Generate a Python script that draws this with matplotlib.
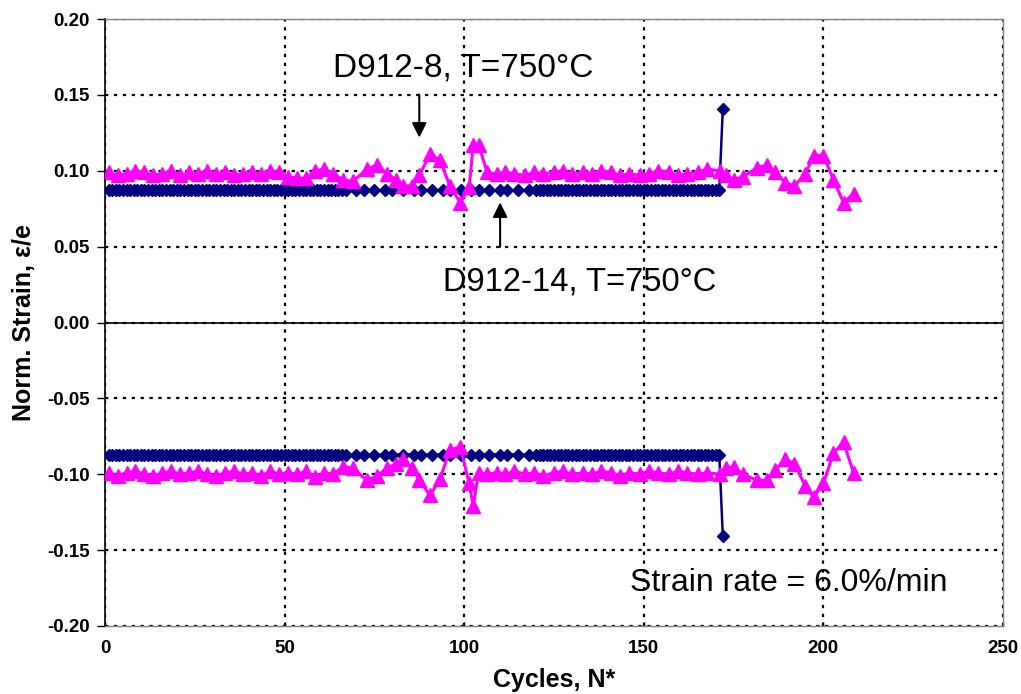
import matplotlib
matplotlib.use("Agg")
import matplotlib.pyplot as plt

plt.rcParams['font.family'] = ['Liberation Sans', 'DejaVu Sans']

# D912-14 (blue diamonds): cycle numbers and the two strain levels
blue_x = (list(range(1, 68))
          + [70, 72, 75, 78, 80, 83, 86, 88, 91, 94, 96, 99, 102, 104,
             107, 110, 112, 115, 118, 120]
          + list(range(121, 172)) + [172])
blue_level = 0.087
blue_last = 0.141

# D912-8 (magenta triangles)
mag_x = [1, 3.5, 6, 8.5, 11, 13.5, 16, 18.5, 21, 23.5, 26, 28.5, 31, 33.5,
         36, 38.5, 41, 43.5, 46, 48.5, 51, 53.5, 56, 58.5, 61, 63.5, 66.3,
         69, 72.9, 75.8, 78.5, 81, 83, 85.6, 87.5, 90.5, 93.3, 96, 98.9,
         101.4, 102.5, 104, 106.4, 109, 111.5, 114, 117, 119.5, 122, 125,
         127.5, 130, 133, 135.5, 138, 141, 143.5, 146, 149, 151.5, 154, 157,
         159.5, 162, 165, 167.5, 171.3, 173, 175, 177.5, 181.6, 184.4, 186.6,
         189.4, 191.9, 195, 197.3, 200, 202.8, 205.6, 208.4]
mag_up = [0.099, 0.097, 0.098, 0.100, 0.099, 0.097, 0.098, 0.100, 0.097,
          0.099, 0.098, 0.100, 0.098, 0.099, 0.097, 0.098, 0.099, 0.098,
          0.100, 0.099, 0.096, 0.095, 0.095, 0.100, 0.101, 0.098, 0.094,
          0.093, 0.101, 0.104, 0.098, 0.094, 0.090, 0.090, 0.097, 0.111,
          0.107, 0.090, 0.079, 0.089, 0.117, 0.117, 0.099,
          0.098, 0.099, 0.098, 0.097, 0.099, 0.098, 0.099, 0.100, 0.098,
          0.099, 0.098, 0.100, 0.099, 0.097, 0.098, 0.097, 0.098, 0.100,
          0.099, 0.097, 0.098, 0.099, 0.101,
          0.100, 0.097, 0.094, 0.096, 0.102, 0.104, 0.099, 0.092, 0.090,
          0.098, 0.110, 0.110, 0.094, 0.079, 0.085]
mag_low = [-0.099, -0.101, -0.099, -0.098, -0.100, -0.101, -0.099, -0.098,
           -0.100, -0.099, -0.098, -0.100, -0.101, -0.099, -0.098, -0.100,
           -0.099, -0.101, -0.098, -0.100, -0.099, -0.100, -0.098, -0.102,
           -0.099, -0.100, -0.095, -0.096, -0.104, -0.101, -0.096, -0.093,
           -0.090, -0.096, -0.104, -0.114, -0.103, -0.084, -0.082, -0.106,
           -0.121, -0.099, -0.100,
           -0.099, -0.100, -0.098, -0.100, -0.099, -0.101, -0.099, -0.098,
           -0.100, -0.099, -0.100, -0.098, -0.099, -0.101, -0.099, -0.100,
           -0.098, -0.099, -0.100, -0.098, -0.099, -0.100, -0.099,
           -0.100, -0.096, -0.095, -0.100, -0.104, -0.104, -0.097, -0.090,
           -0.093, -0.108, -0.115, -0.106, -0.086, -0.079, -0.099]

blue_up = [blue_level] * (len(blue_x) - 1) + [blue_last]
blue_low = [-v for v in blue_up]

fig = plt.figure(figsize=(10.21, 6.94), dpi=100)
ax = fig.add_axes([0.1028, 0.098, 0.8796, 0.8746])

navy = '#000080'
magenta = '#FF00FF'
for ys in (blue_up, blue_low):
    ax.plot(blue_x, ys, color=navy, lw=1.8, marker='D', ms=6.5,
            mfc=navy, mec=navy, zorder=3)
for ys in (mag_up, mag_low):
    ax.plot(mag_x, ys, color=magenta, lw=2.2, marker='^', ms=9.5,
            mfc=magenta, mec=magenta, zorder=4)

ax.set_xlim(0, 250)
ax.set_ylim(-0.20, 0.20)
ax.set_xticks([0, 50, 100, 150, 200, 250])
ax.set_yticks([-0.20, -0.15, -0.10, -0.05, 0.00, 0.05, 0.10, 0.15, 0.20])
ax.set_yticklabels([f"{v:.2f}" for v in ax.get_yticks()])

ax.grid(True, color='black', linestyle=(0, (1.5, 2.5)), lw=1.6)
ax.axhline(0, color='black', lw=1.2, zorder=2)

for s in ('top', 'right', 'bottom'):
    ax.spines[s].set_color('#808080')
    ax.spines[s].set_linestyle((0, (3, 1)))
    ax.spines[s].set_linewidth(1.0)
ax.spines['left'].set_color('black')
ax.spines['left'].set_linewidth(1.2)

ax.tick_params(axis='y', direction='out', length=6, width=1, pad=5)
ax.tick_params(axis='x', direction='in', length=3, width=1, pad=10)
for lab in ax.get_xticklabels() + ax.get_yticklabels():
    lab.set_fontsize(13.5)
    lab.set_fontweight('bold')

ax.set_xlabel("Cycles, N*", fontsize=18, fontweight='bold', labelpad=8)
ax.set_ylabel("Norm. Strain, ε/e", fontsize=18, fontweight='bold', labelpad=8)

ax.text(63.5, 0.168, "D912-8, T=750°C", fontsize=24, va='center', ha='left')
ax.text(94.2, 0.027, "D912-14, T=750°C", fontsize=23.5, va='center', ha='left')
ax.text(146.2, -0.172, "Strain rate = 6.0%/min", fontsize=23,
        va='center', ha='left')

arrow = dict(arrowstyle='-|>', lw=1.5, color='black', mutation_scale=22)
ax.annotate('', xy=(87.5, 0.120), xytext=(87.5, 0.152), arrowprops=arrow)
ax.annotate('', xy=(110, 0.081), xytext=(110, 0.048), arrowprops=arrow)

fig.savefig("out.png", dpi=100)
